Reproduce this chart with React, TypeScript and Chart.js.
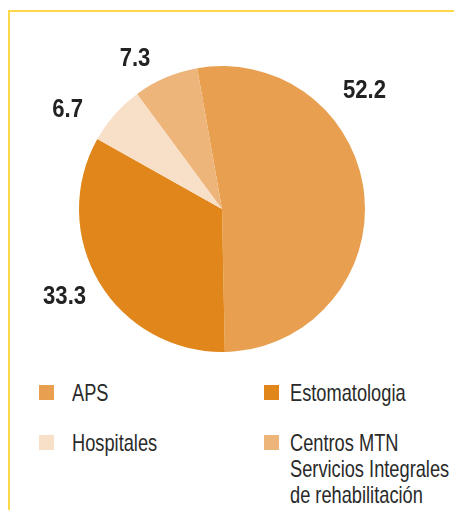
import React, { useEffect, useRef } from "react";
import { Chart, registerables } from "chart.js";
Chart.register(...registerables);

const categories = ["APS", "Estomatologia", "Hospitales", "Centros MTN Servicios Integrales de rehabilitación"];
const legendLines = [["APS"], ["Estomatologia"], ["Hospitales"], ["Centros MTN", "Servicios Integrales", "de rehabilitación"]];
const values = [52.2, 33.3, 6.7, 7.3];
const valueLabels = ["52.2", "33.3", "6.7", "7.3"];
const colors = ["#E8A050", "#E0861A", "#F8E0C8", "#EDB57A"];
// label placement (style): angle from top in degrees, distance beyond the rim
const labelAngles = [50, 241, 303, 330];
const labelGaps = [43, 37, 41, 31];

const FONT = "'Liberation Sans', Arial, sans-serif";

const labelPlugin = {
  id: "valueLabels",
  afterDatasetsDraw(chart: any) {
    const ctx = chart.ctx;
    const meta = chart.getDatasetMeta(0);
    ctx.save();
    ctx.font = `bold 26px ${FONT}`;
    ctx.fillStyle = "#222";
    ctx.textAlign = "center";
    ctx.textBaseline = "middle";
    meta.data.forEach((arc: any, i: number) => {
      const p = arc.getProps(["x", "y", "outerRadius"], true);
      const a = (labelAngles[i] - 90) * Math.PI / 180;
      const d = p.outerRadius + labelGaps[i];
      ctx.save();
      ctx.translate(p.x + Math.cos(a) * d, p.y + Math.sin(a) * d + 1);
      ctx.scale(0.85, 1);
      ctx.fillText(valueLabels[i], 0, 0);
      ctx.restore();
    });
    ctx.restore();
  },
};

export default function App() {
  const ref = useRef<HTMLCanvasElement>(null);
  useEffect(() => {
    const chart = new Chart(ref.current!, {
      type: "pie",
      data: {
        labels: categories,
        datasets: [{ data: values, backgroundColor: colors, borderWidth: 0 }],
      },
      options: {
        animation: false,
        responsive: false,
        rotation: -10,
        layout: { padding: { left: 79, right: 89, top: 66, bottom: 8 } },
        plugins: { legend: { display: false }, tooltip: { enabled: false } },
      },
      plugins: [labelPlugin],
    });
    return () => chart.destroy();
  }, []);

  const legendPos = [
    { left: 39, top: 385, textLeft: 33 },
    { left: 264, top: 385, textLeft: 26 },
    { left: 39, top: 435, textLeft: 33 },
    { left: 264, top: 435, textLeft: 26 },
  ];

  return (
    <div style={{ position: "absolute", left: 0, top: 0, width: 454, height: 510, overflow: "hidden", background: "#fff" }}>
      <div style={{ position: "absolute", left: 8, top: 10, width: 446, height: 500, borderTop: "2px solid #FFD84A", borderLeft: "2px solid #FFD84A" }} />
      <canvas ref={ref} width={454} height={360} style={{ position: "absolute", left: 0, top: 0, width: 454, height: 360 }} />
      {legendLines.map((lines, i) => (
        <div key={i} style={{ position: "absolute", left: legendPos[i].left, top: legendPos[i].top }}>
          <div style={{ position: "absolute", left: 0, top: 0, width: 15, height: 15, background: colors[i] }} />
          <div style={{ position: "absolute", left: legendPos[i].textLeft, top: -5, fontFamily: FONT, fontSize: 24, lineHeight: "26px", color: "#2a2a2a", whiteSpace: "nowrap", transform: "scaleX(0.76)", transformOrigin: "0 0" }}>
            {lines.map((l, j) => (<div key={j}>{l}</div>))}
          </div>
        </div>
      ))}
    </div>
  );
}
